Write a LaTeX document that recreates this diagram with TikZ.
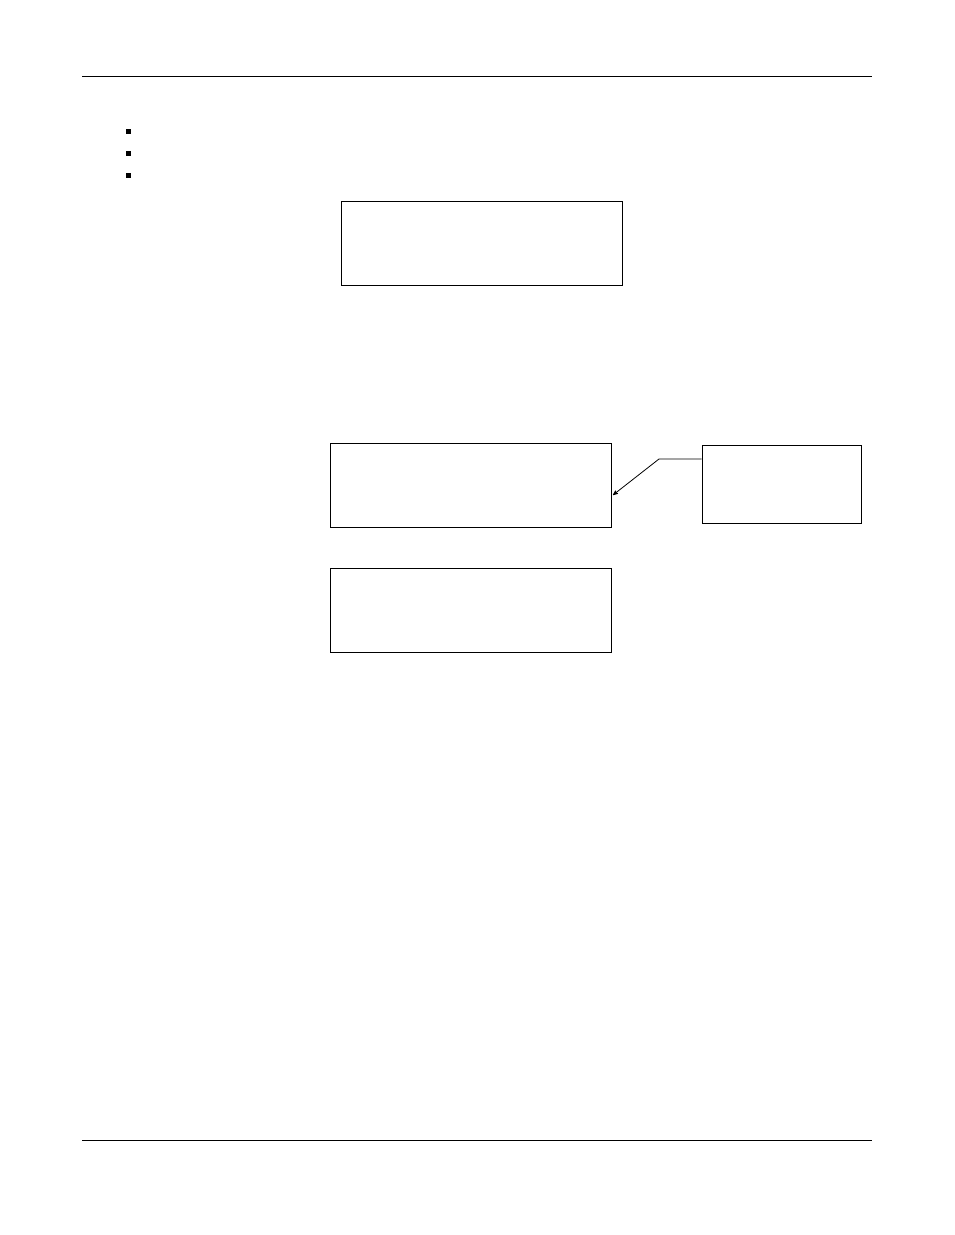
\documentclass[tikz,border=0pt]{standalone}
\usepackage{tikz}
\usetikzlibrary{arrows,positioning}
\tikzset{
    %Define standard arrow tip
    >=stealth',
    %Define style for boxes
    boks/.style={
           rectangle,
           draw=black, line width=1pt,
           minimum width=281pt,
           minimum height=84pt,
           inner sep=0pt},
    smallboks/.style={
           rectangle,
           draw=black, line width=1pt,
           minimum width=159pt,
           minimum height=78pt,
           inner sep=0pt},
    % Define bullet style
    kule/.style={
           rectangle,
           fill=black,
           minimum size=5pt,
           inner sep=0pt},
    % Define arrow style
    pil/.style={
           ->,
           line width=0.8pt}
}
\begin{document}
\begin{tikzpicture}[x=1pt,y=-1pt]
\useasboundingbox (0,0) rectangle (954,1235);
 %rules
\coordinate (hl) at (82,76);
\coordinate (hr) at (872,76);
\coordinate (fl) at (82,1140);
\coordinate (fr) at (872,1140);
\draw[line width=0.8pt] (hl) -- (hr);
\draw[line width=0.8pt] (fl) -- (fr);
 %bullets
\node[kule] (b1) at (128,131) {};
\node[kule] (b2) at (128,153) {};
\node[kule] (b3) at (128,175) {};
 %nodes
\node[boks] (top) at (481.5,243) {};
\node[boks] (mid) at (470.5,485) {};
\node[boks, below=40pt of mid] (low) {};
\node[smallboks] (side) at (781.5,484) {};
\coordinate (bend) at (659,459);
\coordinate (tip) at (613,495);
\draw[pil] (side.west |- bend) -- (bend) -- (tip);
\end{tikzpicture}
\end{document}
